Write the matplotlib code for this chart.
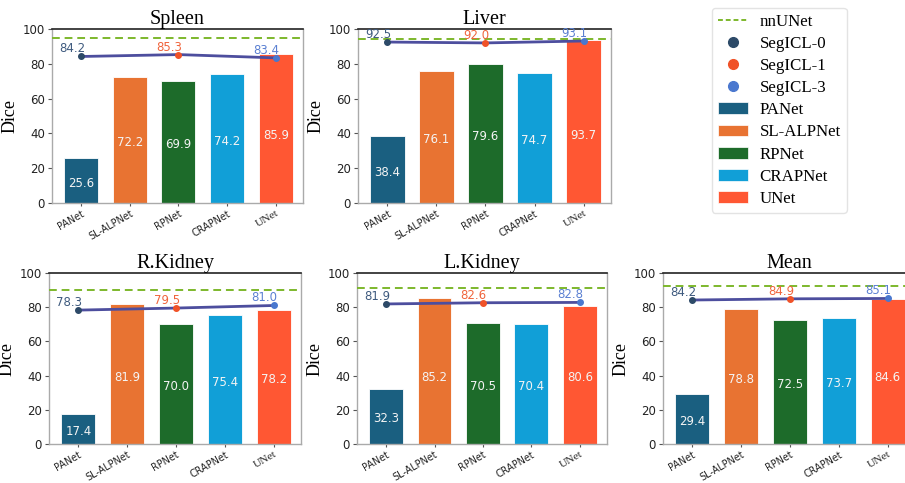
import matplotlib
matplotlib.use("Agg")
import matplotlib.pyplot as plt
from matplotlib.lines import Line2D
from matplotlib.patches import Patch

organs = ["Spleen", "Liver", "R.Kidney", "L.Kidney", "Mean"]
models = ["PANet", "SL-ALPNet", "RPNet", "CRAPNet", "UNet"]
model_colors = ["#1a5f80", "#e87332", "#1d6b2a", "#119fd7", "#ff5733"]

bar_spleen = [25.6, 72.2, 69.9, 74.2, 85.9]
bar_liver = [38.4, 76.1, 79.6, 74.7, 93.7]
bar_rkidney = [17.4, 81.9, 70.0, 75.4, 78.2]
bar_lkidney = [32.3, 85.2, 70.5, 70.4, 80.6]
bar_mean = [29.4, 78.8, 72.5, 73.7, 84.6]
bars_all = [bar_spleen, bar_liver, bar_rkidney, bar_lkidney, bar_mean]

segicl_names = ["SegICL-0", "SegICL-1", "SegICL-3"]
segicl_spleen = [84.2, 85.3, 83.4]
segicl_liver = [92.5, 92.0, 93.1]
segicl_rkidney = [78.3, 79.5, 81.0]
segicl_lkidney = [81.9, 82.6, 82.8]
segicl_mean = [84.2, 84.9, 85.1]
segicl_all = [segicl_spleen, segicl_liver, segicl_rkidney, segicl_lkidney, segicl_mean]
segicl_pos = [0, 2, 4]
segicl_colors = ["#2d4a68", "#f05228", "#4a78cf"]
segicl_text_colors = ["#3e5a7e", "#f0643c", "#5b80d2"]

nnunet = [95.0, 94.4, 89.8, 91.3, 92.6]

yticks = [0, 20, 40, 60, 80, 100]

fig = plt.figure(figsize=(9.05, 4.83), dpi=100)
W, H = 905.0, 483.0
boxes = [
    (52, 29, 303, 203),
    (358, 29, 611, 203),
    (49, 273, 301, 444),
    (357, 273, 607, 444),
    (663, 273, 915, 444),
]

for k, (organ, vals, seg, nn) in enumerate(zip(organs, bars_all, segicl_all, nnunet)):
    x0, y0, x1, y1 = boxes[k]
    ax = fig.add_axes([x0 / W, 1 - y1 / H, (x1 - x0) / W, (y1 - y0) / H])
    xs = list(range(len(models)))
    ax.bar(xs, vals, width=0.7, color=model_colors, edgecolor="white", linewidth=0.6, zorder=2)
    for xi, v in zip(xs, vals):
        ypos = min(v / 2.0, 40.5) - 1.5
        ax.text(xi, ypos, f"{v:.1f}", ha="center", va="center", color="#f4f4f4",
                fontsize=8.5, zorder=4)
    ax.axhline(nn, color="#7db82c", linestyle=(0, (4, 2.5)), linewidth=1.4, zorder=3)
    ax.plot(segicl_pos, seg, color="#4d4e9e", linewidth=2, zorder=4)
    for p, v, c, tc in zip(segicl_pos, seg, segicl_colors, segicl_text_colors):
        ax.plot([p], [v], marker="o", markersize=4, color=c, linestyle="none", zorder=5)
        ax.text(p + 0.08, v + 0.6, f"{v:.1f}", ha="right", va="bottom", color=tc,
                fontsize=8.5, zorder=6)
    ax.set_xlim(-0.6, 4.56)
    ax.set_ylim(0, 100)
    ax.set_yticks(yticks)
    ax.set_yticklabels([str(t) for t in yticks], fontsize=8.5, color="#222222")
    ax.set_xticks(xs)
    ax.set_xticklabels(models, rotation=30, ha="right", rotation_mode="anchor",
                       fontsize=6.9, color="#222222")
    ax.get_xticklabels()[-1].set_family("Liberation Serif")
    ax.get_xticklabels()[-1].set_fontsize(8.2)
    ax.tick_params(axis="y", length=3, width=0.8, color="#555555", pad=2)
    ax.tick_params(axis="x", length=2.5, width=0.8, color="#555555", pad=1.5)
    for s in ["left", "bottom", "right"]:
        ax.spines[s].set_color("#aaaaaa")
        ax.spines[s].set_linewidth(1.0)
    ax.spines["top"].set_color("#222222")
    ax.spines["top"].set_linewidth(1.2)
    ax.set_title(organ, fontsize=14.5, family="Liberation Serif", pad=3)
    ax.set_ylabel("Dice", fontsize=13, family="Liberation Serif")
    ax.yaxis.set_label_coords(-33.0 / (x1 - x0), 0.5)

handles = [Line2D([0], [0], color="#7db82c", linestyle=(0, (2.5, 1.5)), linewidth=1.4)]
for c in segicl_colors:
    handles.append(Line2D([0], [0], marker="o", linestyle="none", color=c, markersize=7))
for c in model_colors:
    handles.append(Patch(facecolor=c, edgecolor="white", linewidth=0.5))
labels = ["nnUNet"] + segicl_names + models
leg = fig.legend(handles, labels, loc="upper left", bbox_to_anchor=(712 / W, 1 - 8 / H),
                 prop={"family": "Liberation Serif", "size": 12.2}, labelspacing=0.36,
                 handlelength=1.8, handletextpad=0.65, borderpad=0.35, borderaxespad=0.0,
                 frameon=True, fancybox=True, edgecolor="#dddddd")

fig.savefig("out.png", dpi=100)
